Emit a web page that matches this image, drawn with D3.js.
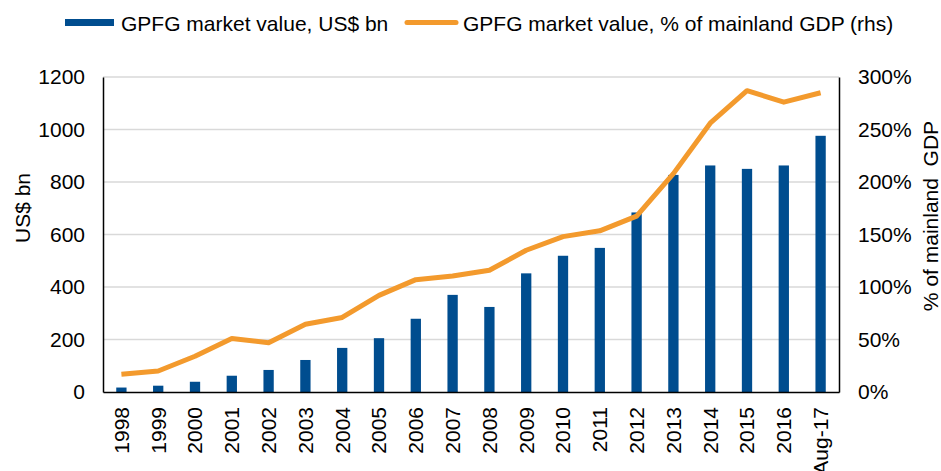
<!DOCTYPE html>
<html>
<head>
<meta charset="utf-8">
<script src="https://cdn.jsdelivr.net/npm/d3@7"></script>
<style>
  body { margin: 0; background: #fff; }
  svg { font-family: "Liberation Sans", Arial, sans-serif; }
</style>
</head>
<body>
<svg id="chart" width="941" height="471"></svg>
<script>
var years = ["1998","1999","2000","2001","2002","2003","2004","2005","2006","2007",
  "2008","2009","2010","2011","2012","2013","2014","2015","2016","Aug-17"];
var marketValue = [17, 24, 39, 62, 84, 122, 168, 205, 279, 370,
  324, 452, 519, 549, 684, 827, 863, 850, 863, 976];
var pctGdp = [17, 20, 34, 51, 47, 64.5, 71, 92, 107, 110.5,
  116, 135, 148, 153.5, 167.5, 208, 256, 287, 276, 285];
var leftTicks = [0, 200, 400, 600, 800, 1000, 1200];
var rightTicks = [0, 50, 100, 150, 200, 250, 300];

var svg = d3.select("#chart"),
    margin = {top: 77, right: 102, bottom: 79, left: 103},
    width = +svg.attr("width") - margin.left - margin.right,
    height = +svg.attr("height") - margin.top - margin.bottom,
    g = svg.append("g").attr("transform", "translate(" + margin.left + "," + margin.top + ")");

var blue = "#004D8F", orange = "#F39A2D", fs = 21;

var x = d3.scaleBand().domain(years).range([0, width]).paddingInner(0.72).paddingOuter(0.36);
var y = d3.scaleLinear().domain([0, 1200]).range([height, 0]);
var y2 = d3.scaleLinear().domain([0, 300]).range([height, 0]);

// gridlines
g.selectAll(".grid").data(leftTicks.slice(1)).enter().append("line")
  .attr("x1", 0).attr("x2", width)
  .attr("y1", function(d) { return y(d); }).attr("y2", function(d) { return y(d); })
  .attr("stroke", "#d9d9d9").attr("stroke-width", 1.5);

g.selectAll(".bar").data(marketValue).enter().append("rect")
  .attr("x", function(d, i) { return x(years[i]); })
  .attr("width", x.bandwidth())
  .attr("y", function(d) { return y(d); })
  .attr("height", function(d) { return height - y(d); })
  .attr("fill", blue);

var line = d3.line()
  .x(function(d, i) { return x(years[i]) + x.bandwidth() / 2; })
  .y(function(d) { return y2(d); });

g.append("path").datum(pctGdp)
  .attr("fill", "none").attr("stroke", orange)
  .attr("stroke-width", 5).attr("stroke-linejoin", "round")
  .attr("d", line);

// axes
var yAxis = g.append("g").call(d3.axisLeft(y).tickValues(leftTicks).tickSize(0).tickPadding(18)
  .tickFormat(d3.format("d")));
var y2Axis = g.append("g").attr("transform", "translate(" + width + ",0)")
  .call(d3.axisRight(y2).tickValues(rightTicks).tickSize(0).tickPadding(19)
    .tickFormat(function(d) { return d + "%"; }));
var xAxis = g.append("g").attr("transform", "translate(0," + height + ")")
  .call(d3.axisBottom(x).tickSize(0));

[yAxis, y2Axis, xAxis].forEach(function(a) {
  a.select(".domain").attr("stroke", "#000").attr("stroke-width", 1.5);
  a.selectAll("text").attr("font-size", fs).attr("fill", "#000")
    .style("font-family", "'Liberation Sans', Arial, sans-serif");
});

xAxis.selectAll("text")
  .attr("transform", "rotate(-90)")
  .attr("text-anchor", "end")
  .attr("x", -15).attr("y", 0).attr("dy", "0.35em");

// axis titles
svg.append("text").attr("transform", "translate(30,208) rotate(-90)")
  .attr("text-anchor", "middle").attr("font-size", fs).text("US$ bn");
svg.append("text").attr("transform", "translate(938,216) rotate(-90)")
  .attr("text-anchor", "middle").attr("font-size", fs).style("white-space", "pre")
  .text("% of mainland  GDP");

// legend
var leg = svg.append("g");
leg.append("rect").attr("x", 65).attr("y", 19).attr("width", 49).attr("height", 7).attr("fill", blue);
leg.append("text").attr("x", 121).attr("y", 31).attr("font-size", fs).text("GPFG market value, US$ bn");
leg.append("line").attr("x1", 407).attr("x2", 456).attr("y1", 22.5).attr("y2", 22.5)
  .attr("stroke", orange).attr("stroke-width", 5).attr("stroke-linecap", "round");
leg.append("text").attr("x", 463).attr("y", 31).attr("font-size", fs).text("GPFG market value, % of mainland GDP (rhs)");
</script>
</body>
</html>
